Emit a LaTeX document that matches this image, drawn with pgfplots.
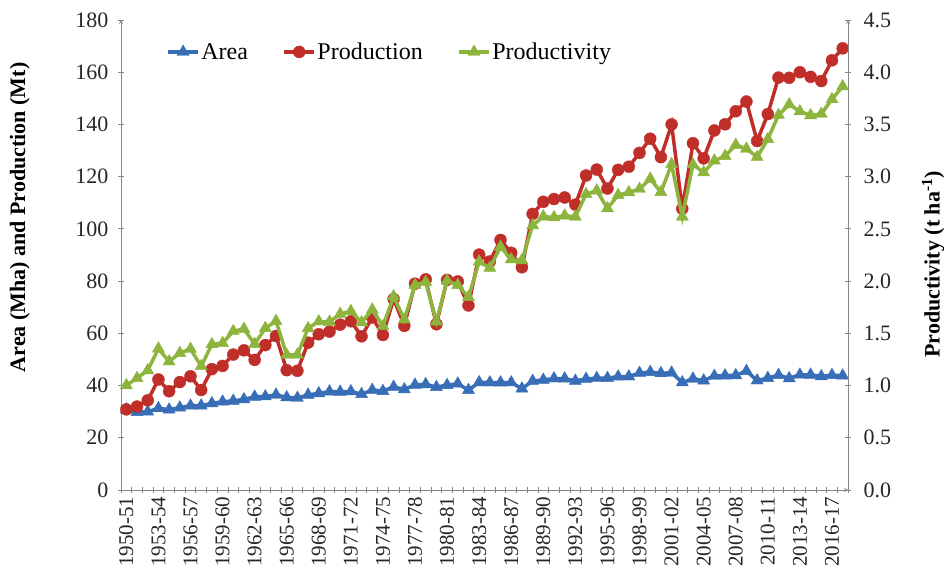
\documentclass[border=0pt]{standalone}
\usepackage{fontspec}
\setmainfont{Liberation Serif}
\usepackage{pgfplots}
\pgfplotsset{compat=1.18}
\usepackage{pgfplotstable}

\definecolor{cArea}{RGB}{55,110,183}
\definecolor{cProd}{RGB}{192,46,42}
\definecolor{cYield}{RGB}{141,180,60}
\definecolor{axgray}{RGB}{134,134,134}

\pgfplotstableread{
i area prod yield
0 30.81 30.87 1.002
1 29.83 31.95 1.071
2 29.97 34.35 1.146
3 31.29 42.32 1.353
4 30.77 37.83 1.230
5 31.52 41.34 1.311
6 32.28 43.56 1.350
7 32.30 38.30 1.185
8 33.17 46.28 1.395
9 33.82 47.52 1.406
10 34.13 51.87 1.520
11 34.69 53.49 1.542
12 35.69 49.82 1.397
13 35.81 55.50 1.550
14 36.46 58.97 1.617
15 35.47 45.89 1.293
16 35.25 45.66 1.295
17 36.44 56.42 1.548
18 37.01 59.64 1.614
19 37.68 60.65 1.610
20 37.59 63.33 1.685
21 37.76 64.61 1.712
22 36.69 58.86 1.605
23 38.29 66.08 1.727
24 37.89 59.37 1.568
25 39.48 73.11 1.853
26 38.51 62.88 1.632
27 40.28 79.01 1.962
28 40.48 80.66 1.992
29 39.42 63.50 1.611
30 40.15 80.45 2.004
31 40.71 79.88 1.962
32 38.26 70.68 1.847
33 41.24 90.15 2.186
34 41.16 87.51 2.126
35 41.14 95.75 2.328
36 41.17 90.84 2.207
37 38.81 85.29 2.198
38 41.73 105.74 2.534
39 42.17 110.36 2.618
40 42.69 111.44 2.610
41 42.65 112.02 2.627
42 41.78 109.29 2.616
43 42.54 120.45 2.832
44 42.81 122.72 2.867
45 42.84 115.47 2.696
46 43.43 122.60 2.823
47 43.45 123.81 2.850
48 44.80 129.12 2.882
49 45.16 134.52 2.979
50 44.71 127.47 2.852
51 44.90 140.01 3.119
52 41.18 107.73 2.616
53 42.59 132.80 3.116
54 41.91 127.00 3.040
55 43.66 137.69 3.153
56 43.81 140.04 3.197
57 43.91 145.04 3.303
58 45.54 148.77 3.267
59 41.92 133.64 3.188
60 42.86 143.97 3.359
61 44.01 157.95 3.590
62 42.75 157.86 3.692
63 44.14 159.98 3.624
64 44.11 158.22 3.587
65 43.50 156.62 3.600
66 43.99 164.55 3.741
67 43.77 169.14 3.864
}\data

\pgfplotsset{
  base/.style={
    width=727pt, height=470pt, scale only axis,
    xmin=-0.5, xmax=67.5,
    axis line style={draw=axgray, line width=0.8pt, -},
    tick style={draw=axgray, line width=0.8pt},
    tick align=outside,
    major tick length=6pt, minor tick length=6pt,
    /pgf/number format/assume math mode=true,
    tick label style={font=\fontsize{22}{25}\selectfont, text=black!85},
  },
  legend image code/.code={\draw[mark repeat=2,mark phase=2] plot coordinates {(0pt,0pt) (15pt,0pt) (30pt,0pt)};},
}

\begin{document}
\begin{tikzpicture}
\begin{axis}[base, name=ax,
  axis x line=bottom, axis y line=left,
  ymin=0, ymax=180, ytick={0,20,...,180},
  yticklabel style={xshift=-6pt},
  xtick={0,3,...,66},
  xticklabels={1950-51,1953-54,1956-57,1959-60,1962-63,1965-66,1968-69,1971-72,1974-75,1977-78,1980-81,1983-84,1986-87,1989-90,1992-93,1995-96,1998-99,2001-02,2004-05,2007-08,2010-11,2013-14,2016-17},
  x tick label style={rotate=90, anchor=east, font=\fontsize{21}{24}\selectfont},
  minor xtick={-0.5,0.5,...,67.5},
  major x tick style={draw=none},
  ylabel={Area (Mha) and Production (Mt)},
  ylabel style={at={(axis description cs:-0.139,0.58)}, anchor=center,
    font=\bfseries\fontsize{22}{26}\selectfont},
]
\addplot[cArea, line width=3.5pt, mark=triangle*, mark size=7pt, mark options={line width=0.4pt, fill=cArea}] table[x=i, y=area] {\data};
\addplot[cProd, line width=3.5pt, mark=*, mark size=6pt, mark options={line width=0.4pt, fill=cProd}] table[x=i, y=prod] {\data};
\end{axis}
\begin{axis}[base,
  axis y line=right, axis x line=none,
  ymin=0, ymax=4.5, ytick={0,0.5,1,1.5,2,2.5,3,3.5,4,4.5},
  yticklabel style={xshift=9pt, /pgf/number format/.cd, fixed, fixed zerofill, precision=1},
  ylabel={Productivity (t ha\textsuperscript{-1})},
  ylabel style={at={(axis description cs:1.117,0.48)}, anchor=center,
    font=\bfseries\fontsize{22}{26}\selectfont},
  legend style={at={(0.058,0.932)}, anchor=west, draw=none, fill=none,
    font=\fontsize{24}{28}\selectfont, legend columns=-1,
    /tikz/every even column/.append style={column sep=33pt},
    nodes={inner sep=1.5pt}},
  legend cell align=left,
]
\addlegendimage{cArea, line width=3.5pt, mark=triangle*, mark size=7pt, mark options={line width=0.4pt, fill=cArea}}
\addlegendentry{Area}
\addlegendimage{cProd, line width=3.5pt, mark=*, mark size=6pt, mark options={line width=0.4pt, fill=cProd}}
\addlegendentry{Production}
\addplot[cYield, line width=3.5pt, mark=triangle*, mark size=7pt, mark options={line width=0.4pt, fill=cYield}] table[x=i, y=yield] {\data};
\addlegendentry{Productivity}
\end{axis}
\pgfresetboundingbox
\path[use as bounding box] ([xshift=-121pt,yshift=-82pt]ax.south west) rectangle ([xshift=96pt,yshift=20pt]ax.north east);
\end{tikzpicture}
\end{document}
